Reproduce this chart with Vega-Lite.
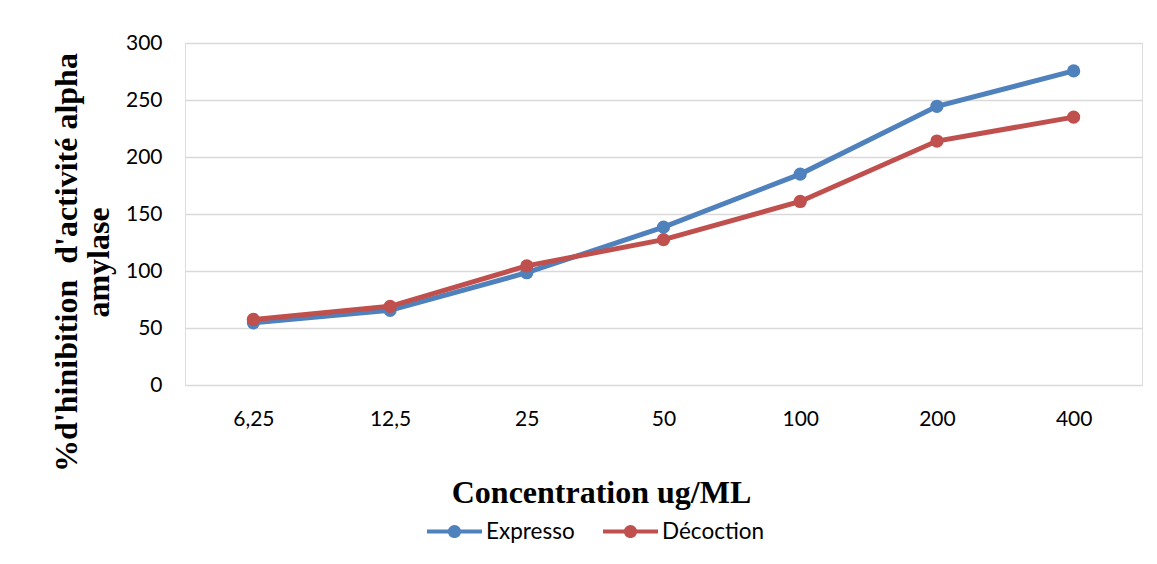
{
  "$schema": "https://vega.github.io/schema/vega-lite/v6.json",
  "width": 957,
  "height": 342,
  "autosize": {"type": "none"},
  "padding": {"left": 185, "top": 43, "right": 15, "bottom": 179},
  "background": "white",
  "data": {
    "values": [
      {"conc": "6,25", "serie": "Expresso", "val": 54.5},
      {"conc": "12,5", "serie": "Expresso", "val": 65.5},
      {"conc": "25", "serie": "Expresso", "val": 98.5},
      {"conc": "50", "serie": "Expresso", "val": 138.5},
      {"conc": "100", "serie": "Expresso", "val": 185},
      {"conc": "200", "serie": "Expresso", "val": 244.5},
      {"conc": "400", "serie": "Expresso", "val": 275.5},
      {"conc": "6,25", "serie": "Décoction", "val": 57.5},
      {"conc": "12,5", "serie": "Décoction", "val": 69},
      {"conc": "25", "serie": "Décoction", "val": 104.5},
      {"conc": "50", "serie": "Décoction", "val": 127.5},
      {"conc": "100", "serie": "Décoction", "val": 161},
      {"conc": "200", "serie": "Décoction", "val": 214},
      {"conc": "400", "serie": "Décoction", "val": 235}
    ]
  },
  "encoding": {
    "x": {
      "field": "conc",
      "type": "ordinal",
      "sort": ["6,25", "12,5", "25", "50", "100", "200", "400"],
      "scale": {"type": "point", "padding": 0.5},
      "axis": {
        "title": "Concentration ug/ML",
        "titleFont": "Liberation Serif",
        "titleFontSize": 32,
        "titleFontWeight": "bold",
        "titleColor": "black",
        "titleX": 416,
        "titleY": 107,
        "titleBaseline": "middle",
        "labelFont": "Lato",
        "labelFontSize": 21,
        "labelColor": "black",
        "labelPadding": 23,
        "labelAngle": 0,
        "ticks": false,
        "domain": false,
        "grid": false
      }
    },
    "y": {
      "field": "val",
      "type": "quantitative",
      "scale": {"domain": [0, 300]},
      "axis": {
        "values": [0, 50, 100, 150, 200, 250, 300],
        "title": ["%d'hinibition \u00a0d'activité alpha", "amylase"],
        "titleFont": "Liberation Serif",
        "titleFontSize": 32,
        "titleFontWeight": "bold",
        "titleColor": "black",
        "titleLineHeight": 32,
        "titleX": -119,
        "titleY": 219,
        "titleAngle": -90,
        "titleAlign": "center",
        "titleBaseline": "middle",
        "labelFont": "Lato",
        "labelFontSize": 21,
        "labelColor": "black",
        "labelPadding": 23,
        "ticks": false,
        "domain": false,
        "grid": true,
        "gridColor": "#d9d9d9",
        "gridWidth": 1.5
      }
    },
    "color": {
      "field": "serie",
      "type": "nominal",
      "sort": ["Expresso", "Décoction"],
      "scale": {"domain": ["Expresso", "Décoction"], "range": ["#4F81BD", "#C0504D"]},
      "legend": {
        "title": null,
        "orient": "none",
        "direction": "horizontal",
        "legendX": 242,
        "legendY": 461,
        "symbolType": "M-1,-0.075 L1,-0.075 L1,0.075 L-1,0.075 Z M0.24,0 A0.24,0.24 0 1,1 -0.24,0 A0.24,0.24 0 1,1 0.24,0 Z",
        "symbolSize": 3025,
        "symbolStrokeWidth": 0,
        "symbolOpacity": 1,
        "labelFont": "Lato",
        "labelFontSize": 22.5,
        "labelColor": "black",
        "labelOffset": 4,
        "columnPadding": 28
      }
    }
  },
  "layer": [
    {"mark": {"type": "line", "strokeWidth": 5}},
    {"mark": {"type": "point", "filled": true, "size": 175, "opacity": 1}}
  ]
}
